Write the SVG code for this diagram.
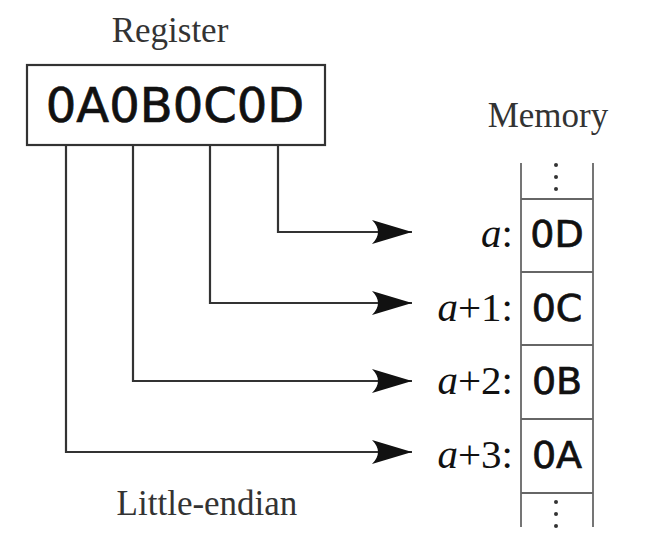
<svg xmlns="http://www.w3.org/2000/svg" width="652" height="536" viewBox="0 0 652 536">
<style>
.lbl{font-family:"Liberation Serif","DejaVu Serif",serif;font-size:35px;fill:#333}
.addr{font-family:"Liberation Serif","DejaVu Serif",serif;font-size:41px;fill:#111}
.hex{font-family:"DejaVu Sans","Liberation Sans",sans-serif;fill:#111;stroke:#111;stroke-width:0.7}
.conn{fill:none;stroke:#333;stroke-width:2.2}
.mem{fill:none;stroke:#666;stroke-width:1.8}
</style>
<defs>
<marker id="arr" markerUnits="userSpaceOnUse" markerWidth="44" markerHeight="30" viewBox="-42 -15 44 30" refX="0" refY="0" orient="auto">
<path d="M0,0 L-40,-12 Q-28,0 -40,12 Z" fill="#111"/>
</marker>
</defs>
<rect width="652" height="536" fill="#fff"/>
<g id="register">
<text class="lbl" x="170" y="42" text-anchor="middle">Register</text>
<rect x="27" y="65" width="298" height="80" fill="#fff" stroke="#333" stroke-width="2.2"/>
<text class="hex" x="175" y="122" font-size="48" text-anchor="middle">0A0B0C0D</text>
</g>
<g id="connectors">
<path class="conn" d="M278,145 V232 H412" marker-end="url(#arr)"/>
<path class="conn" d="M210,145 V303 H412" marker-end="url(#arr)"/>
<path class="conn" d="M133,145 V381 H412" marker-end="url(#arr)"/>
<path class="conn" d="M66,145 V452 H412" marker-end="url(#arr)"/>
</g>
<g id="memory">
<text class="lbl" x="548" y="127" text-anchor="middle">Memory</text>
<line class="mem" x1="521" y1="163" x2="521" y2="527"/>
<line class="mem" x1="593" y1="163" x2="593" y2="527"/>
<line class="mem" x1="521" y1="199" x2="593" y2="199"/>
<line class="mem" x1="521" y1="272" x2="593" y2="272"/>
<line class="mem" x1="521" y1="345" x2="593" y2="345"/>
<line class="mem" x1="521" y1="419" x2="593" y2="419"/>
<line class="mem" x1="521" y1="493" x2="593" y2="493"/>
<g fill="#333">
<circle cx="556" cy="165" r="2"/><circle cx="556" cy="177" r="2"/><circle cx="556" cy="189" r="2"/>
<circle cx="556" cy="502" r="2"/><circle cx="556" cy="514" r="2"/><circle cx="556" cy="526" r="2"/>
</g>
</g>
<g id="cell0">
<text class="addr" x="513" y="247" text-anchor="end"><tspan font-style="italic">a</tspan>:</text>
<text class="hex" x="557" y="247" font-size="38" text-anchor="middle">0D</text>
</g>
<g id="cell1">
<text class="addr" x="513" y="321" text-anchor="end"><tspan font-style="italic">a</tspan>+1:</text>
<text class="hex" x="557" y="321" font-size="38" text-anchor="middle">0C</text>
</g>
<g id="cell2">
<text class="addr" x="513" y="394" text-anchor="end"><tspan font-style="italic">a</tspan>+2:</text>
<text class="hex" x="557" y="394" font-size="38" text-anchor="middle">0B</text>
</g>
<g id="cell3">
<text class="addr" x="513" y="468" text-anchor="end"><tspan font-style="italic">a</tspan>+3:</text>
<text class="hex" x="557" y="468" font-size="38" text-anchor="middle">0A</text>
</g>
<text class="lbl" x="207" y="515" text-anchor="middle">Little-endian</text>
</svg>
